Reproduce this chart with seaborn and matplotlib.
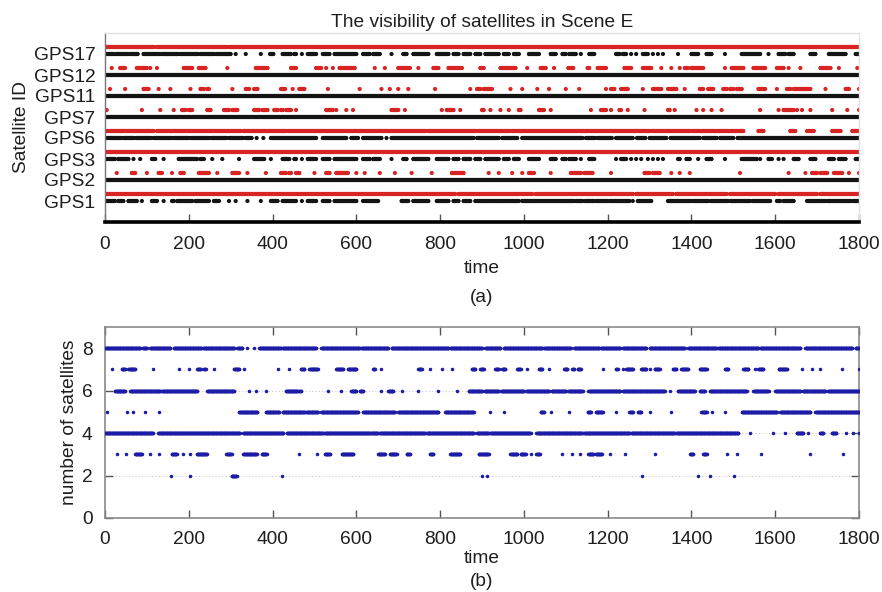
import numpy as np
import pandas as pd
import matplotlib
matplotlib.use("Agg")
import matplotlib.pyplot as plt
import seaborn as sns

# ---- visibility spans per satellite (seconds); [a, b] = visible a..b, single value = one epoch ----
sat_labels = ["GPS1", "GPS2", "GPS3", "GPS6", "GPS7", "GPS11", "GPS12", "GPS17"]

gps17_red = [[0, 116], [123, 291], [297, 1800]]
gps17_black = [[0, 22], [26, 55], [58, 78], [92, 130], [134, 175], [180, 222], [228, 262], [266, 300], 312, 336, 372,
               [394, 402], [424, 444], [452, 456], 470, [484, 504], [520, 536], [548, 600], [616, 632], [640, 656], 684,
               [712, 720], [736, 772], [792, 820], [832, 844], [856, 872], [884, 896], [908, 940], [952, 964],
               [976, 988], [1012, 1036], [1064, 1076], [1092, 1100], [1108, 1124], 1136, [1156, 1168], [1220, 1228],
               [1236, 1244], 1256, 1268, [1284, 1296], 1308, 1320, 1332, 1368, [1400, 1416], [1436, 1448], 1480,
               [1520, 1564], 1584, [1608, 1624], [1632, 1644], [1684, 1696], [1728, 1768], [1792, 1800]]

gps12_red = [16, [36, 48], [76, 100], 108, 124, [188, 208], [224, 240], 292, [360, 388], [444, 456], [504, 516], 528,
             544, [560, 596], 644, 668, [700, 728], 748, [784, 796], [820, 852], [896, 904], [944, 980], 1008,
             [1040, 1052], 1072, [1106, 1118], [1152, 1156], [1176, 1196], [1240, 1256], [1284, 1304], 1328, 1352,
             1372, [1384, 1392], [1400, 1428], 1480, [1496, 1524], [1548, 1576], [1604, 1620], 1632, 1660,
             [1708, 1732], 1752, 1796]
gps12_black = [[0, 1800]]

gps11_red = [12, 48, [92, 104], 128, 156, 204, [228, 236], [244, 248], 304, [336, 344], [356, 364], [420, 430], 448,
             [464, 476], 532, 608, 660, 680, 700, 724, 788, 872, [888, 896], [904, 924], 968, 996, 1032, 1060, 1100,
             1132, 1196, [1208, 1216], [1232, 1248], 1284, [1308, 1328], [1344, 1364], 1384, [1420, 1428],
             [1440, 1452], [1476, 1484], [1492, 1500], [1508, 1520], [1560, 1576], 1604, [1628, 1636], [1644, 1684],
             1720, [1768, 1776], 1800]
gps11_black = [[0, 1800]]

gps7_red = [4, 88, 132, 164, [184, 192], [200, 208], [244, 252], [284, 296], [304, 316], [356, 368], [376, 388],
            [404, 412], [420, 424], [432, 444], 456, [528, 544], 552, 576, 592, [684, 700], 716, 804, [816, 832], 848,
            [900, 904], 920, 944, 964, [988, 992], [1036, 1048], 1064, 1160, [1184, 1196], 1208, [1228, 1232], 1248,
            1288, [1344, 1348], 1360, 1412, 1428, 1448, 1472, 1564, 1608, [1620, 1644], 1652, 1664, 1684, 1736, 1772,
            1800]
gps7_black = [[0, 1800]]

gps6_red = [[0, 116], [124, 324], [330, 432], [436, 766], [770, 886], [890, 966], [970, 1302], [1306, 1398],
            [1402, 1490], [1494, 1524], [1560, 1572], [1636, 1648], [1676, 1692], [1736, 1756], [1784, 1800]]
gps6_black = [[0, 40], [44, 70], [74, 110], [116, 160], [164, 200], [204, 250], [254, 290], [296, 330], [336, 350],
              362, 378, [396, 504], [520, 576], [588, 604], [616, 660], 672, [684, 880], [888, 940], [948, 984],
              [996, 1140], [1148, 1170], [1176, 1210], [1220, 1260], [1270, 1290], [1300, 1340], [1350, 1420],
              [1428, 1460], [1468, 1500], [1510, 1800]]

gps3_red = [[0, 1800]]
gps3_black = [[0, 24], [32, 56], 68, 84, [112, 120], 140, [176, 220], [228, 236], 256, 280, 320, [356, 380], 396,
              [424, 440], [452, 456], 470, [484, 504], [520, 536], [548, 600], [616, 632], [640, 656], 684, [712, 720],
              [736, 772], [792, 820], [832, 844], [856, 872], [884, 896], [908, 940], [952, 964], [976, 988],
              [1012, 1036], [1064, 1076], [1092, 1100], [1108, 1124], 1136, [1156, 1168], 1220, [1232, 1244], 1256,
              1268, 1280, 1296, 1308, 1320, 1332, [1368, 1372], [1388, 1396], 1416, [1436, 1448], 1480, [1520, 1556],
              1564, [1584, 1592], 1608, 1620, [1644, 1656], [1684, 1696], [1728, 1740], [1752, 1768], [1792, 1800]]

gps2_red = [28, [64, 72], 100, [128, 136], 160, [180, 188], [224, 248], 268, [304, 320], 340, 384, [420, 432],
            [440, 444], [456, 464], 500, [528, 536], [552, 580], 600, 620, 656, 692, 732, 780, [828, 856], 916, 940,
            972, 996, [1012, 1024], 1064, [1112, 1136], [1144, 1164], 1208, [1288, 1300], [1308, 1324], 1352, 1372,
            1396, 1516, 1632, 1672, [1688, 1700], [1708, 1724], [1740, 1760], 1776, 1800]
gps2_black = [[0, 1800]]

gps1_red = [[0, 836], [844, 1020], [1028, 1260], [1268, 1356], [1364, 1484], [1492, 1600], [1608, 1700],
            [1708, 1800]]
gps1_black = [[0, 24], [32, 44], [56, 76], 88, [112, 124], 140, [160, 164], [172, 208], [216, 248], [260, 272], 296,
              312, 340, 372, [396, 412], [424, 456], 470, [484, 504], [520, 536], [548, 600], [616, 652], [708, 724],
              [736, 772], [792, 820], [832, 844], [856, 872], [884, 988], [996, 1120], [1124, 1140], [1146, 1168],
              [1172, 1200], [1204, 1252], 1260, [1272, 1304], [1344, 1400], [1404, 1440], [1446, 1488], [1494, 1540],
              [1546, 1588], [1604, 1612], [1620, 1644], [1676, 1720], [1724, 1780], [1786, 1800]]

# ---- number of visible satellites per epoch ----
count8 = [[0, 84], [90, 100], [108, 156], [164, 230], [234, 308], [316, 328], 340, 356, [368, 420], [424, 504],
          [516, 608], [612, 676], [684, 820], [824, 900], [908, 944], [952, 1044], [1048, 1112], [1120, 1180],
          [1184, 1230], [1236, 1292], [1300, 1384], [1392, 1460], [1464, 1560], [1564, 1660], [1672, 1784],
          [1792, 1800]]
count7 = [16, [40, 48], [56, 72], 114, 176, 200, [220, 228], [236, 240], 260, [308, 320], 332, 412, 440, [468, 476],
          [488, 508], [552, 568], [580, 600], [640, 644], 660, [748, 756], 776, 804, 828, [876, 884], [896, 904],
          [932, 940], [948, 956], [984, 992], 1008, [1036, 1044], 1060, [1096, 1104], [1116, 1120], [1128, 1136],
          1188, [1220, 1224], 1236, [1244, 1260], [1280, 1292], 1300, [1312, 1324], [1356, 1364], [1376, 1392],
          [1420, 1436], [1480, 1488], [1524, 1536], 1552, [1560, 1572], [1608, 1628], 1664, 1688, 1708, 1760, 1800]
count6 = [[24, 48], [60, 132], [136, 220], [244, 308], 344, 360, 384, [432, 460], [464, 468], 532, 564, [588, 600],
          [608, 616], 660, [676, 688], 708, 748, 796, 840, [868, 900], [906, 940], [946, 1000], [1006, 1060],
          [1066, 1100], [1106, 1140], 1152, [1156, 1230], [1236, 1336], 1348, [1368, 1408], [1420, 1432],
          [1444, 1532], [1548, 1584], [1600, 1660], [1666, 1720], [1726, 1800]]
count5 = [4, 52, 68, 96, 128, [320, 364], [384, 416], [424, 476], [480, 508], [516, 604], [616, 692], [700, 796],
          [812, 880], 920, 952, [1040, 1048], 1064, 1108, [1152, 1160], [1172, 1188], 1220, [1252, 1260],
          [1272, 1280], 1300, 1352, [1424, 1436], 1448, 1480, [1520, 1604], [1612, 1684], [1696, 1800]]
count4 = [[0, 115], [127, 322], [330, 426], [434, 520], [524, 632], [634, 652], [656, 764], [768, 880], [888, 916],
          [920, 1016], [1030, 1140], [1144, 1252], [1256, 1360], [1364, 1512], 1540, 1594, 1624, [1651, 1667], 1679,
          [1707, 1715], [1735, 1746], 1769, 1786, 1800]
count3 = [28, 50, [72, 88], 107, 130, [159, 171], 187, 203, [219, 243], [290, 302], [330, 362], [374, 386], 462, 505,
          [525, 537], [565, 593], [652, 668], [680, 696], [720, 728], [776, 784], [824, 848], [892, 916], [968, 984],
          [992, 1004], 1016, [1030, 1038], 1090, 1114, 1134, [1154, 1166], [1172, 1186], 1206, 1242, 1313,
          [1397, 1404], [1428, 1436], 1484, 1508, 1567, 1683, 1762]
count2 = [158, 203, [302, 314], 422, 900, 912, 1283, 1415, 1444, 1501]

time_ticks = [0, 200, 400, 600, 800, 1000, 1200, 1400, 1600, 1800]


def epochs(spans):
    out = []
    for s in spans:
        if isinstance(s, (list, tuple)):
            out.extend(range(s[0], s[1] + 1))
        else:
            out.append(s)
    return out


def frame(spans, y, kind):
    t = epochs(spans)
    return pd.DataFrame({"time": t, "y": [y] * len(t), "kind": [kind] * len(t)})


red_rows = [gps1_red, gps2_red, gps3_red, gps6_red, gps7_red, gps11_red, gps12_red, gps17_red]
black_rows = [gps1_black, gps2_black, gps3_black, gps6_black, gps7_black, gps11_black, gps12_black, gps17_black]

parts = []
for i, (r, b) in enumerate(zip(red_rows, black_rows), start=1):
    parts.append(frame(b, i, "black"))
    parts.append(frame(r, i + 1 / 3, "red"))
vis = pd.concat(parts, ignore_index=True)

counts = pd.concat([frame(c, n, "n") for c, n in
                    [(count8, 8), (count7, 7), (count6, 6), (count5, 5),
                     (count4, 4), (count3, 3), (count2, 2)]], ignore_index=True)

sns.set_theme(style="white")
plt.rcParams["font.family"] = ["Liberation Sans", "DejaVu Sans"]
FS = 13.8
TXT = "#1e1e1e"

fig = plt.figure(figsize=(8.82, 5.92), dpi=100)
ax1 = fig.add_axes([105 / 882, 1 - 222 / 592, 754 / 882, 189 / 592])
ax2 = fig.add_axes([105 / 882, 1 - 518 / 592, 754 / 882, 191 / 592])

# ---- (a) visibility ----
sns.scatterplot(data=vis, x="time", y="y", hue="kind",
                palette={"red": "#d92424", "black": "#141414"},
                s=9, marker="o", linewidth=0, legend=False, ax=ax1)
ax1.set_xlim(0, 1800)
ax1.set_ylim(0, 9)
ax1.set_yticks(range(1, 9))
ax1.set_yticklabels(sat_labels)
ax1.set_xticks(time_ticks)
ax1.set_xticklabels([str(t) for t in time_ticks])
ax1.tick_params(axis="x", direction="in", length=6, width=1, color="#555555",
                labelsize=FS, labelcolor=TXT, pad=10, bottom=True, top=False)
ax1.tick_params(axis="y", length=0, labelsize=FS, labelcolor=TXT, pad=7)
ax1.set_xlabel("time", fontsize=FS, color=TXT, labelpad=5)
ax1.set_ylabel("Satellite ID", fontsize=FS, color=TXT)
ax1.yaxis.set_label_coords(-0.1, 0.5)
ax1.set_title("The visibility of satellites in Scene E", fontsize=FS, color=TXT, pad=4)
ax1.spines["bottom"].set_color("#000000")
ax1.spines["bottom"].set_linewidth(2.6)
ax1.spines["left"].set_color("#777777")
ax1.spines["left"].set_linewidth(1.0)
for side in ("top", "right"):
    ax1.spines[side].set_color("#e2e2e2")
    ax1.spines[side].set_linewidth(1.0)

# ---- (b) number of satellites ----
sns.scatterplot(data=counts, x="time", y="y", color="#1c1ca6",
                s=6.5, marker="o", linewidth=0, legend=False, ax=ax2, zorder=3)
ax2.set_xlim(0, 1800)
ax2.set_ylim(0, 9)
ax2.set_yticks([0, 2, 4, 6, 8])
ax2.set_xticks(time_ticks)
ax2.set_xticklabels([str(t) for t in time_ticks])
ax2.yaxis.grid(True, linestyle=(0, (1, 2)), color="#c8c8c8", linewidth=0.8)
ax2.xaxis.grid(False)
ax2.tick_params(axis="both", direction="in", length=6, width=1, color="#555555",
                labelsize=FS, labelcolor=TXT, pad=9,
                bottom=True, top=True, left=True, right=True)
ax2.set_xlabel("time", fontsize=FS, color=TXT, labelpad=2)
ax2.set_ylabel("number of satellites", fontsize=FS, color=TXT)
ax2.yaxis.set_label_coords(-0.036, 0.5)
for side in ("top", "right", "bottom", "left"):
    ax2.spines[side].set_color("#8a8a8a")
    ax2.spines[side].set_linewidth(1.2)

fig.text(482 / 882, 1 - 298 / 592, "(a)", ha="center", va="center", fontsize=FS, color=TXT)
fig.text(482 / 882, 1 - 581 / 592, "(b)", ha="center", va="center", fontsize=FS, color=TXT)

fig.savefig("out.png", dpi=100, facecolor="white")
